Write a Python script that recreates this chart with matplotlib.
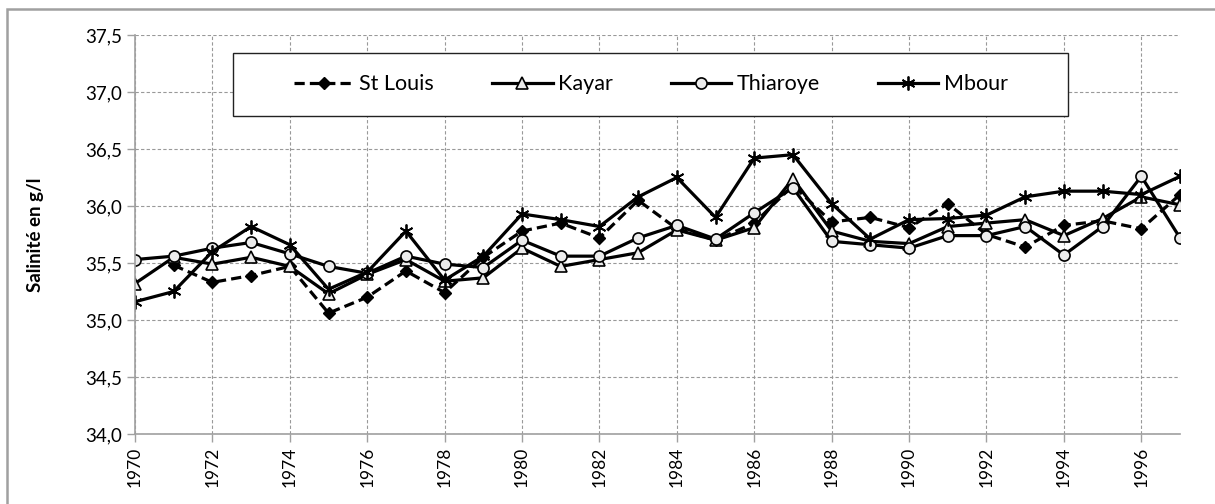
import numpy as np
import matplotlib.pyplot as plt

plt.rcParams['font.family'] = ['Lato', 'DejaVu Sans']

years = list(range(1970, 1998))

st_louis = [np.nan, 35.48, 35.33, 35.39, 35.47, 35.06, 35.20, 35.43, 35.24, 35.55,
            35.78, 35.85, 35.72, 36.05, 35.80, 35.70, 35.85, 36.18, 35.86, 35.90,
            35.81, 36.02, 35.75, 35.64, 35.83, 35.87, 35.80, 36.10]
kayar = [35.32, 35.55, 35.49, 35.55, 35.47, 35.23, 35.40, 35.53, 35.34, 35.37,
         35.63, 35.47, 35.53, 35.59, 35.79, 35.70, 35.81, 36.24, 35.78, 35.69,
         35.67, 35.82, 35.85, 35.88, 35.74, 35.89, 36.08, 36.01]
thiaroye = [35.53, 35.56, 35.63, 35.68, 35.58, 35.47, 35.41, 35.56, 35.49, 35.46,
            35.70, 35.56, 35.56, 35.72, 35.83, 35.71, 35.94, 36.16, 35.69, 35.66,
            35.63, 35.74, 35.74, 35.82, 35.57, 35.82, 36.26, 35.72]
mbour = [35.16, 35.25, 35.60, 35.82, 35.66, 35.27, 35.42, 35.78, 35.35, 35.56,
         35.93, 35.88, 35.82, 36.08, 36.25, 35.90, 36.42, 36.45, 36.02, 35.71,
         35.88, 35.89, 35.92, 36.08, 36.13, 36.13, 36.10, 36.26]

fig = plt.figure(figsize=(12.15, 5.04), dpi=100)
ax = fig.add_axes([0.1111, 0.1389, 0.8601, 0.7917])

lw = 2.3
fill = '#ececec'
ax.plot(years, st_louis, color='black', lw=lw, ls=(0, (3.2, 1.6)), marker='D',
        ms=6, mfc='black', mec='black', label='St Louis')
ax.plot(years, kayar, color='black', lw=lw, marker='^', ms=9, mfc=fill,
        mec='black', mew=1.2, label='Kayar')
ax.plot(years, thiaroye, color='black', lw=lw, marker='o', ms=8, mfc=fill,
        mec='black', mew=1.2, label='Thiaroye')
ax.plot(years, mbour, color='black', lw=lw, marker=(6, 2, 0), ms=10,
        mec='black', mew=1.3, label='Mbour')

ax.set_xlim(1970, 1997)
ax.set_ylim(34.0, 37.5)
ax.set_xticks(range(1970, 1997, 2))
ax.set_xticklabels([str(y) for y in range(1970, 1997, 2)], rotation=90, fontsize=12.5)
yt = np.arange(34.0, 37.51, 0.5)
ax.set_yticks(yt)
ax.set_yticklabels([('%.1f' % v).replace('.', ',') for v in yt], fontsize=13.5)
ax.set_ylabel('Salinité en g/l', fontsize=13.5, fontweight='bold', labelpad=30)

ax.grid(True, color='#999999', ls=(0, (3, 2)), lw=0.8)
ax.set_axisbelow(True)
for s in ['top', 'right']:
    ax.spines[s].set_visible(False)
for s in ['left', 'bottom']:
    ax.spines[s].set_color('#a0a0a0')
    ax.spines[s].set_linewidth(1.2)
ax.tick_params(axis='both', color='#a0a0a0', length=6, width=1, pad=3)

# legend box drawn separately so the entries can sit centred inside it
box = plt.Rectangle((0.094, 0.797), 0.799, 0.158, transform=ax.transAxes,
                    facecolor='white', edgecolor='#222222', lw=1.0, zorder=4)
ax.add_patch(box)
leg = ax.legend(loc='center', bbox_to_anchor=(0.094 + 0.799 / 2, 0.797 + 0.158 / 2),
                ncol=4, frameon=False, fontsize=15.5, handlelength=2.8,
                handletextpad=0.25, columnspacing=2.7, borderaxespad=0)
leg.set_zorder(5)

# outer frame
fig.patches.append(plt.Rectangle((0.006, -0.02), 1.0, 1.002, transform=fig.transFigure,
                                 fill=False, edgecolor='#a0a0a0', lw=1.8))

fig.savefig('out.png', dpi=100)
